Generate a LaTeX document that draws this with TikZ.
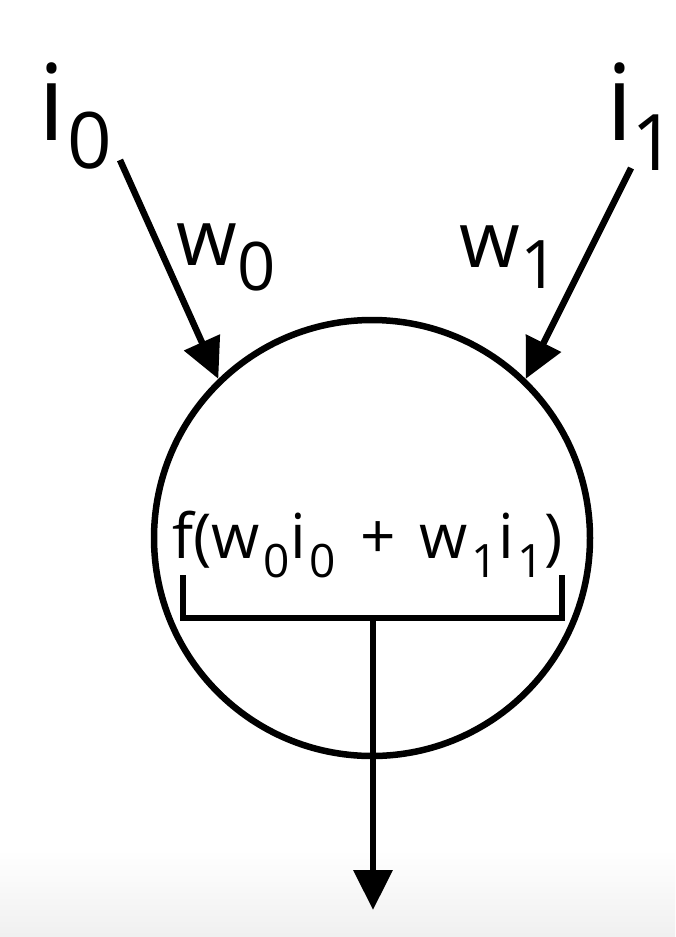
\documentclass[tikz,border=0pt]{standalone}
\usepackage{fontspec}
\setmainfont{Open Sans}
\usepackage{tikz}
\usetikzlibrary{
  arrows.meta,
  positioning,
  calc
}

%% subscript set at its own size, lowered below the baseline
\newcommand{\subidx}[3]{\lower#2\hbox{\fontsize{#1}{#1}\selectfont #3}}

\tikzset{
  wire/.style={line width=6.5pt, -{Triangle[length=40pt, width=38pt]}},
  bracket/.style={line width=6.5pt},
  lbl/.style={inner sep=0pt, anchor=base west}
}

\begin{document}
\begin{tikzpicture}[x=1pt, y=-1pt]

  %% Page frame and faint bottom shade
  \useasboundingbox (0,0) rectangle (675,937);
  \shade[top color=white, bottom color=gray!12] (0,850) rectangle (675,937);

  %% Neuron body
  \node[circle, draw, line width=6.5pt, inner sep=0pt, minimum size=436pt]
    (neuron) at (372,538) {};

  %% Inputs
  \node[lbl, font=\fontsize{106}{106}\selectfont]
    (in0lbl) at (38,140) {i\kern2pt\subidx{78pt}{28pt}{0}};
  \node[lbl, font=\fontsize{106}{106}\selectfont]
    (in1lbl) at (606,140) {i\kern-2pt\subidx{78pt}{30pt}{1}\kern-16pt};

  %% Weights
  \node[lbl, font=\fontsize{78}{78}\selectfont]
    (w0lbl) at (176,265) {w\kern1pt\subidx{67pt}{25pt}{0}};
  \node[lbl, font=\fontsize{78}{78}\selectfont]
    (w1lbl) at (459,267) {w\kern1pt\subidx{67pt}{21pt}{1}};

  %% Input connectors
  \coordinate (in0) at (120,160);
  \coordinate (in1) at (631,168);
  \draw[wire] (in0) -- (neuron.134.6);
  \draw[wire] (in1) -- (neuron.46);

  %% Activation
  \node[lbl, font=\fontsize{62}{62}\selectfont] (act) at (172,558)
    {f(w\kern4pt\subidx{46pt}{19pt}{0}i\kern4pt\subidx{46pt}{19pt}{0}\kern24pt+\kern24pt%
     w\kern4pt\subidx{46pt}{19pt}{1}i\kern4pt\subidx{46pt}{19pt}{1})};

  %% Bracket under the activation
  \coordinate (brL) at (183,575);
  \coordinate (brR) at (562,575);
  \coordinate (brM) at (373,618);
  \draw[bracket] (brL) |- (brM) -| (brR);

  %% Output connector
  \coordinate (out) at (373,910);
  \draw[wire] (brM) -- (out);

\end{tikzpicture}
\end{document}
